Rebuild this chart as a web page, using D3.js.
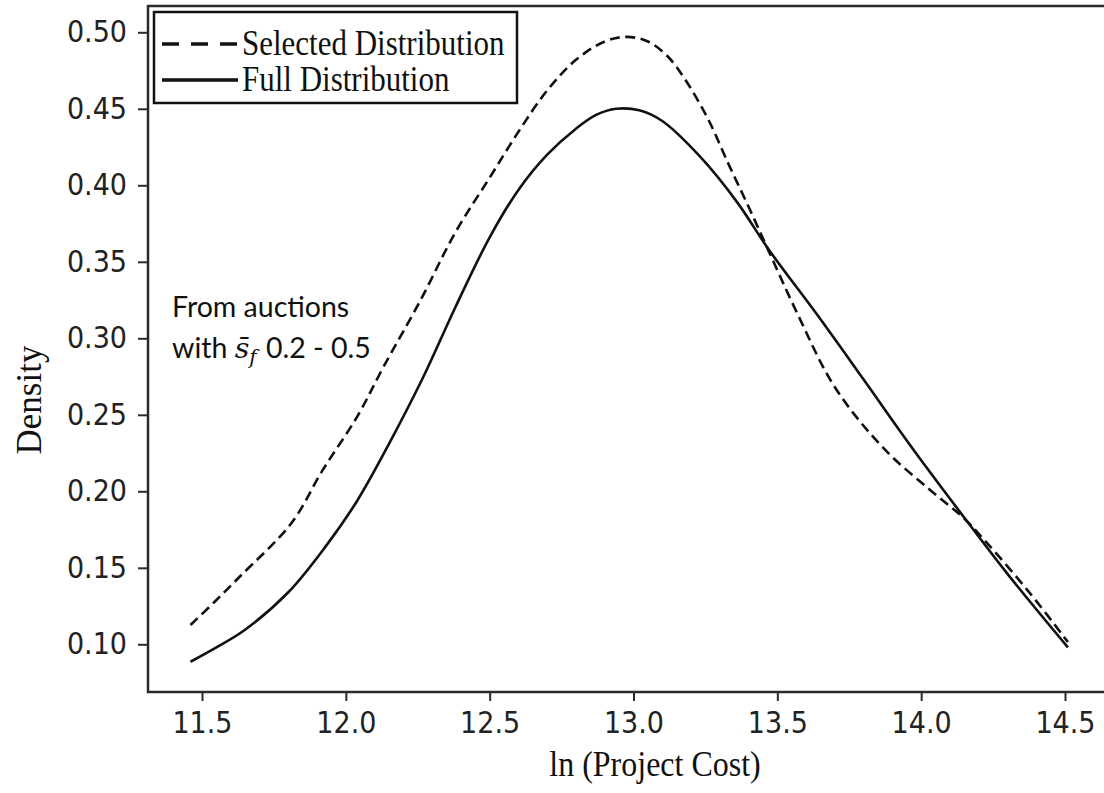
<!DOCTYPE html>
<html>
<head>
<meta charset="utf-8">
<script src="https://cdn.jsdelivr.net/npm/d3@7"></script>
<style>
  html, body { margin: 0; padding: 0; background: #fff; }
  svg { display: block; }
</style>
</head>
<body>
<svg id="chart" width="1104" height="793"></svg>
<script>
// ---- data ----
const fullX = [11.46, 11.55, 11.646, 11.80, 11.93, 12.04, 12.15, 12.27, 12.38, 12.50, 12.60, 12.70, 12.80, 12.87, 12.94, 13.02, 13.10, 13.23, 13.36, 13.47, 13.64, 13.80, 13.97, 14.145, 14.30, 14.51];
const fullY = [0.0886, 0.098, 0.109, 0.134, 0.164, 0.194, 0.231, 0.275, 0.320, 0.366, 0.397, 0.420, 0.437, 0.446, 0.450, 0.449, 0.442, 0.419, 0.389, 0.358, 0.315, 0.273, 0.228, 0.184, 0.146, 0.098];

const selX = [11.46, 11.545, 11.63, 11.81, 11.92, 12.04, 12.13, 12.26, 12.38, 12.50, 12.60, 12.70, 12.80, 12.90, 12.976, 13.05, 13.12, 13.18, 13.26, 13.33, 13.40, 13.47, 13.57, 13.70, 13.87, 14.03, 14.145, 14.23, 14.38, 14.51];
const selY = [0.1126, 0.128, 0.144, 0.179, 0.214, 0.249, 0.281, 0.325, 0.369, 0.405, 0.435, 0.462, 0.482, 0.494, 0.497, 0.494, 0.484, 0.469, 0.443, 0.414, 0.386, 0.357, 0.316, 0.268, 0.228, 0.201, 0.183, 0.166, 0.133, 0.1015];

const xTicks = [11.5, 12.0, 12.5, 13.0, 13.5, 14.0, 14.5];
const yTicks = [0.10, 0.15, 0.20, 0.25, 0.30, 0.35, 0.40, 0.45, 0.50];
const seriesNames = ["Selected Distribution", "Full Distribution"];
const xLabel = "ln (Project Cost)";
const yLabel = "Density";

// ---- layout ----
const svg = d3.select("#chart");
const frame = { left: 148, top: 6, right: 1112, bottom: 692 };

const x = d3.scaleLinear().domain([11.5, 14.5]).range([202, 1065]);
const y = d3.scaleLinear().domain([0.10, 0.50]).range([644.3, 32.3]);

const serif = "Liberation Serif, Times New Roman, serif";
const sans = "DejaVu Sans, sans-serif";

// frame (left, top, bottom spines)
svg.append("path")
  .attr("d", `M${frame.right},${frame.top}H${frame.left}V${frame.bottom}H${frame.right}`)
  .attr("fill", "none").attr("stroke", "#2b2b2b").attr("stroke-width", 2.5);

// axes
const xAxis = d3.axisBottom(x).tickValues(xTicks).tickFormat(d3.format(".1f")).tickSize(9).tickPadding(9);
const gx = svg.append("g").attr("transform", `translate(0,${frame.bottom})`).call(xAxis);
gx.select(".domain").remove();
gx.selectAll(".tick line").attr("stroke", "#2b2b2b").attr("stroke-width", 2);
gx.selectAll(".tick text")
  .attr("font-family", sans).attr("font-size", 27).attr("fill", "#222")
  .attr("transform", "scale(1,1.1)");

const yAxis = d3.axisLeft(y).tickValues(yTicks).tickFormat(d3.format(".2f")).tickSize(10).tickPadding(11);
const gy = svg.append("g").attr("transform", `translate(${frame.left},0)`).call(yAxis);
gy.select(".domain").remove();
gy.selectAll(".tick line").attr("stroke", "#2b2b2b").attr("stroke-width", 2);
gy.selectAll(".tick text")
  .attr("font-family", sans).attr("font-size", 27).attr("fill", "#222")
  .attr("transform", "scale(1,1.1)");

// axis titles
svg.append("text")
  .attr("transform", "translate(655,776) scale(1,1.12)")
  .attr("text-anchor", "middle")
  .attr("font-family", serif)
  .attr("font-size", 32).attr("fill", "#111")
  .text(xLabel);

svg.append("text")
  .attr("transform", "translate(41,400) rotate(-90)")
  .attr("text-anchor", "middle")
  .attr("font-family", serif)
  .attr("font-size", 35).attr("fill", "#111")
  .text(yLabel);

// lines
const line = d3.line().x(d => x(d[0])).y(d => y(d[1])).curve(d3.curveCatmullRom.alpha(0.5));
const selData = selX.map((v, i) => [v, selY[i]]);
const fullData = fullX.map((v, i) => [v, fullY[i]]);

svg.append("path").datum(selData)
  .attr("d", line).attr("fill", "none").attr("stroke", "#111")
  .attr("stroke-width", 2.6).attr("stroke-dasharray", "10,5.5");

svg.append("path").datum(fullData)
  .attr("d", line).attr("fill", "none").attr("stroke", "#111")
  .attr("stroke-width", 2.6);

// legend
const lg = svg.append("g");
lg.append("rect").attr("x", 154).attr("y", 12).attr("width", 363).attr("height", 91)
  .attr("fill", "#fff").attr("stroke", "#111").attr("stroke-width", 2.5);
const rows = [{ name: seriesNames[0], dash: "17,12", cy: 44 }, { name: seriesNames[1], dash: null, cy: 80 }];
rows.forEach(r => {
  lg.append("line").attr("x1", 162).attr("x2", 238).attr("y1", r.cy).attr("y2", r.cy)
    .attr("stroke", "#111").attr("stroke-width", 3.4)
    .attr("stroke-dasharray", r.dash);
  lg.append("text").attr("transform", `translate(242,${r.cy + 11}) scale(1,1.15)`)
    .attr("font-family", serif)
    .attr("font-size", 31).attr("fill", "#111")
    .text(r.name);
});

// annotation
const ann = svg.append("g").attr("font-family", "Lato, Open Sans, sans-serif").attr("font-size", 28.5).attr("fill", "#111");
ann.append("text").attr("x", 172).attr("y", 317).text("From auctions");
const t2 = ann.append("text").attr("x", 172).attr("y", 358);
t2.append("tspan").text("with ");
t2.append("tspan").attr("font-family", "DejaVu Serif, serif").attr("font-style", "italic").text("s\u0304");
t2.append("tspan").attr("font-family", "DejaVu Serif, serif").attr("font-style", "italic")
  .attr("font-size", 20).attr("dy", 6).text("f");
t2.append("tspan").attr("x", 266).attr("y", 358).text("0.2 - 0.5");
</script>
</body>
</html>
